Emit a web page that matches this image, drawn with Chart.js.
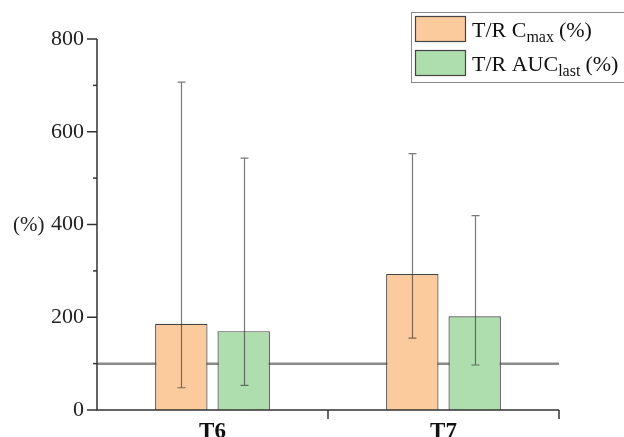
<!DOCTYPE html>
<html>
<head>
<meta charset="utf-8">
<script src="https://cdn.jsdelivr.net/npm/chart.js@4.4.0/dist/chart.umd.min.js"></script>
<style>
  html, body { margin: 0; padding: 0; background: #fff; }
  #wrap { width: 624px; height: 437px; }
</style>
</head>
<body>
<div id="wrap"><canvas id="myChart" width="624" height="437"></canvas></div>
<script>
// Data
var categories = ['T6', 'T7'];
var cmaxValues = [186, 293];
var cmaxHigh = [707, 553];
var cmaxLow = [48, 155];
var aucValues = [170, 202];
var aucHigh = [543, 419];
var aucLow = [53, 97];
var yTicks = [0, 200, 400, 600, 800];
var refValue = 100;

var serif = "'Liberation Serif', 'Times New Roman', serif";
var axisColor = '#333333';

// fixed plot box
var plotLeft = 97, plotRight = 559, plotTop = 39, plotBottom = 410;

// reference line at 100 (behind the bars)
var refLinePlugin = {
    id: 'refLine',
    beforeDatasetsDraw: function (chart) {
        var c = chart.ctx, y = chart.scales.y.getPixelForValue(refValue);
        c.save();
        c.strokeStyle = '#8a8a8a';
        c.lineWidth = 2.5;
        c.beginPath();
        c.moveTo(chart.chartArea.left, y);
        c.lineTo(chart.chartArea.right, y);
        c.stroke();
        c.restore();
    }
};

// error bars, axes, ticks, axis title, legend
var extrasPlugin = {
    id: 'extras',
    afterDatasetsDraw: function (chart) {
        var c = chart.ctx, ys = chart.scales.y, xs = chart.scales.x;
        var area = chart.chartArea;
        var highs = [cmaxHigh, aucHigh], lows = [cmaxLow, aucLow];

        c.save();
        c.strokeStyle = 'rgba(50,50,50,0.65)';
        c.lineWidth = 1.2;
        for (var d = 0; d < 2; d++) {
            var meta = chart.getDatasetMeta(d);
            meta.data.forEach(function (bar, i) {
                var x = Math.round(bar.x) + 0.5;
                var yh = ys.getPixelForValue(highs[d][i]);
                var yl = ys.getPixelForValue(lows[d][i]);
                c.beginPath();
                c.moveTo(x, yh); c.lineTo(x, yl);
                c.moveTo(x - 4, yh); c.lineTo(x + 4, yh);
                c.moveTo(x - 4, yl); c.lineTo(x + 4, yl);
                c.stroke();
            });
        }
        c.restore();

        // axis lines
        c.save();
        c.strokeStyle = axisColor;
        c.lineWidth = 1.5;
        c.beginPath();
        c.moveTo(area.left, area.top);
        c.lineTo(area.left, area.bottom);
        c.lineTo(area.right, area.bottom);
        c.stroke();

        // y ticks, major and minor
        for (var v = 0; v <= 800; v += 100) {
            var py = ys.getPixelForValue(v);
            var len = (v % 200 === 0) ? 10 : 4;
            c.beginPath();
            c.moveTo(area.left - len, py);
            c.lineTo(area.left, py);
            c.stroke();
        }
        // x ticks at category boundaries
        var half = (xs.getPixelForValue(1) - xs.getPixelForValue(0)) / 2;
        [xs.getPixelForValue(0) + half, xs.getPixelForValue(1) + half].forEach(function (px) {
            c.beginPath();
            c.moveTo(px, area.bottom);
            c.lineTo(px, area.bottom + 9);
            c.stroke();
        });

        // y axis title
        c.fillStyle = '#222';
        c.font = '21px ' + serif;
        c.textAlign = 'left';
        c.textBaseline = 'middle';
        c.fillText('(%)', 13, ys.getPixelForValue(400) + 1);

        // legend box
        c.strokeStyle = '#8a8a8a';
        c.lineWidth = 1;
        c.strokeRect(411.5, 12.5, 230, 70);
        var entries = [
            { fill: '#fbcb9d', main: 'T/R C', sub: 'max', y: 16 },
            { fill: '#aedead', main: 'T/R AUC', sub: 'last', y: 50 }
        ];
        entries.forEach(function (e) {
            c.fillStyle = e.fill;
            c.fillRect(415, e.y, 51, 25);
            c.strokeStyle = '#444';
            c.lineWidth = 1.2;
            c.strokeRect(415.5, e.y + 0.5, 50, 25);
            var base = e.y + 21;
            var tx = 472;
            c.fillStyle = '#111';
            c.textBaseline = 'alphabetic';
            c.font = '22px ' + serif;
            c.fillText(e.main, tx, base);
            tx += c.measureText(e.main).width;
            c.font = '16px ' + serif;
            c.fillText(e.sub, tx, base + 5);
            tx += c.measureText(e.sub).width + 5;
            c.font = '22px ' + serif;
            c.fillText('(%)', tx, base);
        });
        c.restore();
    }
};

var ctx = document.getElementById('myChart').getContext('2d');

var myChart = new Chart(ctx, {
    type: 'bar',
    data: {
        labels: categories,
        datasets: [{
            label: 'T/R Cmax (%)',
            data: cmaxValues,
            backgroundColor: '#fbcb9d',
            borderColor: '#444444',
            borderWidth: 1.2,
            categoryPercentage: 0.54,
            barPercentage: 0.84
        }, {
            label: 'T/R AUClast (%)',
            data: aucValues,
            backgroundColor: '#aedead',
            borderColor: '#444444',
            borderWidth: 1.2,
            categoryPercentage: 0.54,
            barPercentage: 0.84
        }]
    },
    options: {
        responsive: false,
        animation: false,
        maintainAspectRatio: false,
        layout: { padding: { top: plotTop, right: 624 - plotRight, left: 0, bottom: 0 } },
        plugins: {
            legend: { display: false },
            tooltip: { enabled: false }
        },
        scales: {
            x: {
                grid: { display: false },
                border: { display: false },
                ticks: {
                    color: '#111',
                    font: { family: serif, size: 23, weight: 'bold' },
                    padding: 0
                },
                afterFit: function (scale) { scale.height = 437 - plotBottom; }
            },
            y: {
                min: 0,
                max: 800,
                afterBuildTicks: function (scale) {
                    scale.ticks = yTicks.map(function (v) { return { value: v }; });
                },
                grid: { display: false },
                border: { display: false },
                ticks: {
                    color: '#222',
                    font: { family: serif, size: 22 },
                    padding: 5
                },
                afterFit: function (scale) { scale.width = plotLeft; }
            }
        }
    },
    plugins: [refLinePlugin, extrasPlugin]
});
</script>
</body>
</html>
